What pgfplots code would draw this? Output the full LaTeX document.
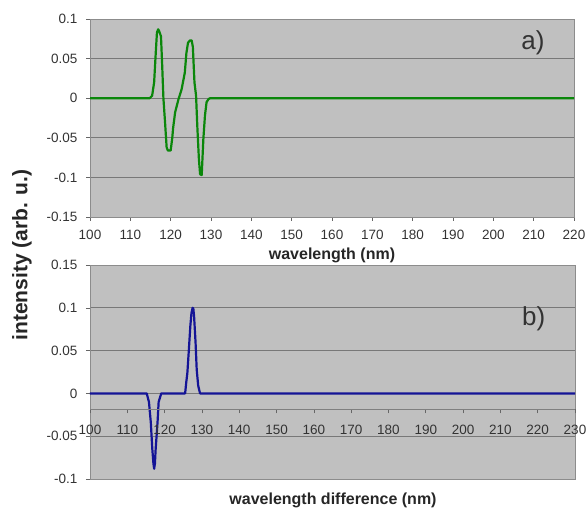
\documentclass[border=0pt]{standalone}
\usepackage{fontspec}
\setmainfont{Liberation Sans}
\usepackage{pgfplots}
\pgfplotsset{compat=1.18}

\definecolor{plotbg}{RGB}{192,192,192}
\definecolor{gridgray}{RGB}{120,120,120}
\definecolor{curvegreen}{RGB}{10,135,10}
\definecolor{curveblue}{RGB}{20,20,150}

\pgfplotstableread{
x y
100 0
114.8 0
115.4 0.003
115.9 0.02
116.3 0.057
116.6 0.083
116.9 0.087
117.2 0.084
117.6 0.078
117.9 0.041
118.2 0
118.6 -0.03
119.0 -0.062
119.3 -0.066
120.0 -0.066
120.4 -0.05
120.6 -0.038
121.1 -0.018
121.9 -0.002
122.7 0.011
123.5 0.032
123.9 0.057
124.3 0.07
124.8 0.073
125.2 0.073
125.5 0.065
125.9 0.02
126.3 0.003
126.6 -0.035
127.0 -0.077
127.3 -0.096
127.7 -0.097
128.1 -0.052
128.5 -0.022
128.9 -0.005
129.4 -0.001
129.8 0
220 0
}\spectrumA

\pgfplotstableread{
x y
100 0
115.2 0
115.8 -0.01
116.3 -0.034
116.7 -0.065
117.0 -0.082
117.2 -0.088
117.4 -0.082
117.6 -0.065
118.1 -0.034
118.4 -0.01
119.1 0
125.5 0
125.8 0.013
126.1 0.024
126.5 0.051
126.9 0.079
127.2 0.094
127.5 0.1
127.7 0.099
127.9 0.09
128.3 0.059
128.6 0.028
129.0 0.009
129.5 0
230 0
}\spectrumB

\pgfplotsset{
  excel/.style={
    scale only axis,
    anchor=south west,
    axis background/.style={fill=plotbg},
    axis line style={draw=black!45},
    tick style={draw=black!60, line width=0.6pt},
    tick align=outside,
    major tick length=4pt,
    xtick pos=bottom, ytick pos=left,
    ymajorgrids,
    major grid style={draw=gridgray, line width=0.8pt},
    tick label style={font=\fontsize{13.5}{14}\selectfont, text=black!80},
    xticklabel style={yshift=-6pt},
    yticklabel style={xshift=-5pt},
    /pgf/number format/assume math mode=true,
    clip=false,
  },
}

\begin{document}
\begin{tikzpicture}
\useasboundingbox (0,0) rectangle (587pt,515pt);

% a) upper panel
\begin{axis}[excel,
  at={(90pt,298pt)}, width=484pt, height=198pt,
  xmin=100, xmax=220, ymin=-0.15, ymax=0.1,
  xtick={100,110,...,220},
  ytick={-0.15,-0.1,-0.05,0,0.05,0.1},
  yticklabels={-0.15,-0.1,-0.05,0,0.05,0.1},
  xlabel={\bfseries wavelength (nm)},
  xlabel style={font=\fontsize{16}{18}\selectfont, text=black!85, yshift=-1pt},
]
\addplot[curvegreen, line width=2.2pt, line join=round] table[x=x,y=y] {\spectrumA};
\node[font=\fontsize{26}{28}\selectfont, text=black!80] at (rel axis cs:0.915,0.88) {a)};
\end{axis}

% b) lower panel
\begin{axis}[excel,
  at={(90pt,36pt)}, width=485pt, height=214pt,
  xmin=100, xmax=230, ymin=-0.1, ymax=0.15,
  xtick=\empty,
  ytick={-0.1,-0.05,0,0.05,0.1,0.15},
  yticklabels={-0.1,-0.05,0,0.05,0.1,0.15},
]
\addplot[curveblue, line width=2.2pt, line join=round] table[x=x,y=y] {\spectrumB};
\node[font=\fontsize{26}{28}\selectfont, text=black!80] at (rel axis cs:0.915,0.75) {b)};
\end{axis}

% x axis of the lower panel, crossing at about -0.0175
\begin{axis}[
  scale only axis, anchor=south west,
  at={(90pt,105.7pt)}, width=485pt, height=10pt,
  xmin=100, xmax=230, ymin=0, ymax=1,
  axis x line*=bottom, hide y axis,
  axis line style={draw=black!50, -},
  tick style={draw=black!60, line width=0.6pt},
  tick align=outside, major tick length=4pt,
  xtick={100,110,...,230},
  tick label style={font=\fontsize{13.5}{14}\selectfont, text=black!80},
  xticklabel style={yshift=-8pt},
  /pgf/number format/assume math mode=true,
]
\end{axis}

\node[rotate=90, font=\fontsize{21}{23}\selectfont\bfseries, text=black!85] at (22pt,260pt) {intensity (arb. u.)};
\node[font=\fontsize{16}{18}\selectfont\bfseries, text=black!85] at (333pt,15pt) {wavelength difference (nm)};
\end{tikzpicture}
\end{document}
